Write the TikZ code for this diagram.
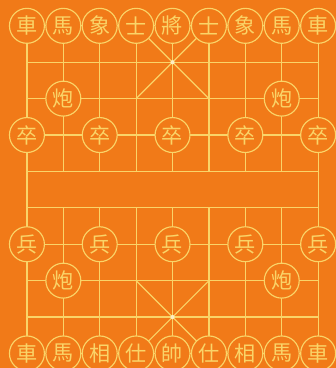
\documentclass[tikz,border=0pt]{standalone}
\usepackage{fontspec}
\newfontfamily\cjk{Noto Sans CJK TC}
\definecolor{boardorange}{RGB}{241,122,24}
\definecolor{linegold}{RGB}{250,212,104}
\tikzset{
  grid/.style={linegold, line width=0.9pt},
  piece/.style={circle, draw=linegold, fill=boardorange, line width=0.9pt,
    minimum size=0.96cm, inner sep=0pt, text=linegold,
    font=\cjk\fontsize{16.5}{16.5}\selectfont},
}
\begin{document}
\begin{tikzpicture}
  \fill[boardorange] (-0.74,0.71) rectangle (8.49,-9.40);
  \useasboundingbox (-0.74,0.71) rectangle (8.49,-9.40);
  % board
  \foreach \r in {0,...,9}
    \draw[grid] (0,-\r) -- (8,-\r);
  \draw[grid] (0,0) -- (0,-9);
  \draw[grid] (8,0) -- (8,-9);
  \foreach \f in {1,...,7} {
    \draw[grid] (\f,0) -- (\f,-4);
    \draw[grid] (\f,-5) -- (\f,-9);
  }
  % palaces
  \draw[grid] (3,0) -- (5,-2) (5,0) -- (3,-2);
  \draw[grid] (3,-7) -- (5,-9) (5,-7) -- (3,-9);
  \fill[linegold!40!white] (4,-1) circle (1.6pt);
  \fill[linegold!40!white] (4,-8) circle (1.6pt);
  % black side
  \foreach \name [count=\f from 0] in {車,馬,象,士,將,士,象,馬,車}
    \node[piece] (top\f) at (\f,0) {\name};
  \node[piece] (topcannonL) at (1,-2) {炮};
  \node[piece] (topcannonR) at (7,-2) {炮};
  \foreach \f in {0,2,4,6,8}
    \node[piece] (topsoldier\f) at (\f,-3) {卒};
  % red side
  \foreach \f in {0,2,4,6,8}
    \node[piece] (botsoldier\f) at (\f,-6) {兵};
  \node[piece] (botcannonL) at (1,-7) {炮};
  \node[piece] (botcannonR) at (7,-7) {炮};
  \foreach \name [count=\f from 0] in {車,馬,相,仕,帥,仕,相,馬,車}
    \node[piece] (bot\f) at (\f,-9) {\name};
\end{tikzpicture}
\end{document}
